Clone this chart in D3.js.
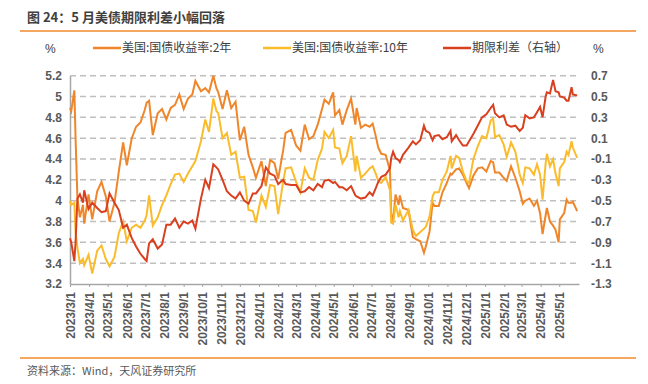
<html>
<script src="https://cdn.jsdelivr.net/npm/d3@7"></script>
<style>
body { margin: 0; background: #fff; }
text { font-family: "Liberation Sans", "Noto Sans CJK SC", sans-serif; }
.cn { font-family: "Noto Sans CJK SC", sans-serif; }
</style>
<body>
<svg width="648" height="384"></svg>
<script>
// trading-day samples (roughly weekly)
const dates = ["2023-03-01","2023-03-03","2023-03-08","2023-03-10","2023-03-13","2023-03-17","2023-03-22","2023-03-24","2023-03-31",
  "2023-04-06","2023-04-14","2023-04-21","2023-04-28","2023-05-04","2023-05-12","2023-05-19","2023-05-26","2023-06-01","2023-06-09",
  "2023-06-16","2023-06-23","2023-06-30","2023-07-03","2023-07-07","2023-07-13","2023-07-21","2023-07-28","2023-08-04","2023-08-11",
  "2023-08-18","2023-08-25","2023-09-01","2023-09-08","2023-09-15","2023-09-20","2023-09-29","2023-10-06","2023-10-12","2023-10-19",
  "2023-10-24","2023-10-27","2023-11-03","2023-11-10","2023-11-17","2023-11-24","2023-12-01","2023-12-08","2023-12-15","2023-12-22",
  "2023-12-27","2024-01-05","2024-01-12","2024-01-19","2024-01-26","2024-02-01","2024-02-09","2024-02-13","2024-02-22","2024-03-01",
  "2024-03-08","2024-03-15","2024-03-22","2024-03-29","2024-04-05","2024-04-12","2024-04-16","2024-04-23","2024-04-30","2024-05-03",
  "2024-05-10","2024-05-15","2024-05-22","2024-05-29","2024-06-05","2024-06-07","2024-06-14","2024-06-21","2024-06-28","2024-07-03",
  "2024-07-08","2024-07-12","2024-07-17","2024-07-24","2024-07-31","2024-08-02","2024-08-05","2024-08-09","2024-08-14","2024-08-16",
  "2024-08-21","2024-08-30","2024-09-06","2024-09-11","2024-09-18","2024-09-24","2024-09-27","2024-10-03","2024-10-08","2024-10-11",
  "2024-10-18","2024-10-24","2024-10-31","2024-11-06","2024-11-08","2024-11-15","2024-11-20","2024-11-26","2024-12-02","2024-12-06",
  "2024-12-13","2024-12-20","2024-12-27","2025-01-03","2025-01-10","2025-01-14","2025-01-17","2025-01-24","2025-01-31","2025-02-05",
  "2025-02-12","2025-02-19","2025-02-26","2025-03-03","2025-03-07","2025-03-14","2025-03-21","2025-03-26","2025-03-31","2025-04-04",
  "2025-04-09","2025-04-11","2025-04-16","2025-04-21","2025-04-25","2025-04-30","2025-05-02","2025-05-09","2025-05-13","2025-05-16",
  "2025-05-21","2025-05-23","2025-05-30"];

const y2 = [4.89,4.86,5.06,4.60,4.03,3.84,3.96,3.78,4.06,
  3.82,4.09,4.18,4.04,3.80,3.98,4.28,4.56,4.34,4.60,
  4.71,4.75,4.87,4.94,4.96,4.63,4.84,4.88,4.78,4.89,
  4.92,5.02,4.88,4.98,5.02,5.15,5.05,5.08,5.04,5.20,
  5.08,5.04,4.88,5.06,4.89,4.95,4.58,4.71,4.44,4.32,
  4.22,4.38,4.14,4.39,4.36,4.21,4.48,4.65,4.68,4.53,
  4.48,4.73,4.59,4.62,4.73,4.88,4.97,4.93,5.04,4.82,
  4.87,4.73,4.87,4.98,4.73,4.89,4.70,4.73,4.71,4.74,
  4.62,4.51,4.45,4.44,4.29,3.88,3.80,4.06,3.96,4.05,
  3.93,3.91,3.65,3.63,3.61,3.50,3.56,3.70,3.98,3.95,
  3.95,4.08,4.17,4.26,4.25,4.30,4.31,4.25,4.17,4.12,
  4.24,4.31,4.32,4.28,4.38,4.37,4.27,4.27,4.22,4.19,
  4.33,4.22,4.09,3.97,4.00,4.02,3.95,4.00,3.88,3.68,
  3.86,3.93,3.80,3.76,3.72,3.60,3.82,3.88,4.01,3.98,
  3.98,3.99,3.90];

const y10 = [4.00,3.96,3.98,3.70,3.55,3.40,3.44,3.38,3.48,
  3.30,3.52,3.57,3.44,3.37,3.46,3.69,3.80,3.61,3.74,
  3.77,3.74,3.81,3.86,4.05,3.76,3.84,3.96,4.05,4.16,
  4.25,4.26,4.18,4.26,4.33,4.38,4.57,4.78,4.66,4.98,
  4.86,4.84,4.60,4.65,4.44,4.47,4.22,4.23,3.91,3.90,
  3.79,4.05,3.94,4.15,4.14,3.87,4.18,4.31,4.32,4.18,
  4.08,4.31,4.22,4.20,4.39,4.50,4.66,4.60,4.68,4.51,
  4.50,4.36,4.43,4.62,4.28,4.43,4.22,4.26,4.31,4.33,
  4.26,4.19,4.17,4.23,4.10,3.79,3.78,3.96,3.84,3.90,
  3.81,3.91,3.72,3.66,3.70,3.73,3.75,3.85,4.04,4.08,
  4.08,4.20,4.28,4.43,4.31,4.43,4.41,4.28,4.19,4.17,
  4.40,4.52,4.62,4.60,4.77,4.79,4.61,4.63,4.54,4.42,
  4.56,4.47,4.25,4.17,4.32,4.31,4.25,4.35,4.25,4.01,
  4.36,4.45,4.33,4.40,4.26,4.14,4.31,4.37,4.47,4.44,
  4.57,4.51,4.41];

const spread = [-0.86,-0.90,-1.08,-0.90,-0.48,-0.44,-0.52,-0.40,-0.58,
  -0.52,-0.57,-0.61,-0.60,-0.43,-0.52,-0.59,-0.76,-0.73,-0.86,
  -0.94,-1.01,-1.06,-1.08,-0.91,-0.87,-0.96,-0.92,-0.73,-0.73,
  -0.67,-0.76,-0.70,-0.72,-0.69,-0.77,-0.48,-0.30,-0.38,-0.15,
  -0.18,-0.20,-0.30,-0.41,-0.45,-0.48,-0.42,-0.50,-0.53,-0.43,
  -0.43,-0.36,-0.18,-0.24,-0.26,-0.34,-0.30,-0.34,-0.35,-0.35,
  -0.42,-0.41,-0.37,-0.40,-0.34,-0.37,-0.31,-0.30,-0.33,-0.32,
  -0.37,-0.37,-0.40,-0.36,-0.45,-0.46,-0.48,-0.47,-0.42,-0.45,
  -0.38,-0.32,-0.27,-0.25,-0.19,-0.09,-0.03,-0.09,-0.11,-0.13,
  -0.06,0.01,0.07,0.04,0.08,0.22,0.17,0.15,0.08,0.12,
  0.13,0.09,0.11,0.17,0.07,0.13,0.08,0.03,0.03,0.07,
  0.14,0.22,0.30,0.33,0.39,0.42,0.34,0.30,0.32,0.23,
  0.21,0.22,0.17,0.20,0.32,0.29,0.30,0.35,0.40,0.30,
  0.50,0.54,0.53,0.66,0.55,0.54,0.50,0.49,0.46,0.46,
  0.59,0.52,0.51];

const monthTicks = ["2023/3/1","2023/4/1","2023/5/1","2023/6/1","2023/7/1","2023/8/1","2023/9/1","2023/10/1","2023/11/1",
  "2023/12/1","2024/1/1","2024/2/1","2024/3/1","2024/4/1","2024/5/1","2024/6/1","2024/7/1","2024/8/1","2024/9/1",
  "2024/10/1","2024/11/1","2024/12/1","2025/1/1","2025/2/1","2025/3/1","2025/4/1","2025/5/1"];
const leftTicks = [3.2,3.4,3.6,3.8,4,4.2,4.4,4.6,4.8,5,5.2];
const rightTicks = [-1.3,-1.1,-0.9,-0.7,-0.5,-0.3,-0.1,0.1,0.3,0.5,0.7];
const seriesNames = ["美国:国债收益率:2年","美国:国债收益率:10年","期限利差（右轴）"];
const colors = ["#F0862A","#FBBC2C","#D8401F"];

const parseDay = d3.timeParse("%Y-%m-%d");
const parseTick = d3.timeParse("%Y/%m/%d");
const svg = d3.select("svg");

const x = d3.scaleTime().domain([parseDay("2023-03-01"), parseDay("2025-06-02")]).range([70, 579]);
const yL = d3.scaleLinear().domain([3.2, 5.2]).range([284, 75.7]);
const yR = d3.scaleLinear().domain([-1.3, 0.7]).range([284, 75.7]);
const fmt = d => String(+d.toFixed(1));

// title + rules
svg.append("text").attr("class", "cn").attr("x", 27).attr("y", 22)
  .attr("font-size", 13).attr("font-weight", "bold").attr("fill", "#404040")
  .text("图 24：5 月美债期限利差小幅回落");
svg.append("line").attr("x1", 20).attr("x2", 636).attr("y1", 31).attr("y2", 31)
  .attr("stroke", "#F08A2C").attr("stroke-width", 1.5);
svg.append("line").attr("x1", 20).attr("x2", 636).attr("y1", 358).attr("y2", 358)
  .attr("stroke", "#F08A2C").attr("stroke-width", 1.5);
svg.append("text").attr("class", "cn").attr("x", 27).attr("y", 375)
  .attr("font-size", 11).attr("fill", "#595959").text("资料来源：Wind，天风证券研究所");

// gridlines
svg.append("g").selectAll("line").data(leftTicks.slice(1)).join("line")
  .attr("x1", 70).attr("x2", 579)
  .attr("y1", d => yL(d)).attr("y2", d => yL(d))
  .attr("stroke", "#BFBFBF").attr("stroke-width", 1.5).attr("stroke-dasharray", "6,4");

// left axis
const gl = svg.append("g").attr("transform", "translate(70,0)")
  .call(d3.axisLeft(yL).tickValues(leftTicks).tickFormat(fmt).tickSize(0).tickPadding(8));
gl.select(".domain").attr("stroke", "#A6A6A6").attr("stroke-width", 1.5);
gl.selectAll("text").attr("font-size", 12).attr("font-weight", "bold").attr("fill", "#595959");

// right axis (labels only)
const gr = svg.append("g").attr("transform", "translate(579,0)")
  .call(d3.axisRight(yR).tickValues(rightTicks).tickFormat(fmt).tickSize(0).tickPadding(12));
gr.select(".domain").remove();
gr.selectAll("text").attr("font-size", 12).attr("font-weight", "bold").attr("fill", "#595959");

// bottom axis
const gb = svg.append("g").attr("transform", "translate(0,284)")
  .call(d3.axisBottom(x).tickValues(monthTicks.map(parseTick)).tickFormat(d3.timeFormat("%Y/%-m/%-d")).tickSize(3).tickSizeOuter(0));
gb.select(".domain").attr("stroke", "#A6A6A6").attr("stroke-width", 1.5);
gb.selectAll(".tick line").attr("stroke", "#A6A6A6");
gb.selectAll("text").attr("font-size", 12).attr("font-weight", "bold").attr("fill", "#595959")
  .attr("transform", "rotate(-90)").attr("text-anchor", "end")
  .attr("x", -8).attr("y", 0).attr("dy", "0.35em");

// lines
const pts = dates.map(parseDay);
const lineL = d3.line().x((d, i) => x(pts[i])).y(d => yL(d));
const lineR = d3.line().x((d, i) => x(pts[i])).y(d => yR(d));
svg.append("path").datum(y2).attr("d", lineL).attr("fill", "none").attr("stroke", colors[0]).attr("stroke-width", 2);
svg.append("path").datum(y10).attr("d", lineL).attr("fill", "none").attr("stroke", colors[1]).attr("stroke-width", 2);
svg.append("path").datum(spread).attr("d", lineR).attr("fill", "none").attr("stroke", colors[2]).attr("stroke-width", 2);

// legend
const legX = [93, 263, 443];
const leg = svg.append("g");
seriesNames.forEach((name, i) => {
  leg.append("line").attr("x1", legX[i]).attr("x2", legX[i] + 28).attr("y1", 48).attr("y2", 48)
    .attr("stroke", colors[i]).attr("stroke-width", 2.5);
  leg.append("text").attr("class", "cn").attr("x", legX[i] + 29).attr("y", 52)
    .attr("font-size", 12).attr("fill", "#404040").text(name);
});
svg.append("text").attr("x", 45).attr("y", 53).attr("font-size", 12).attr("fill", "#404040").text("%");
svg.append("text").attr("x", 593).attr("y", 53).attr("font-size", 12).attr("fill", "#404040").text("%");
</script>
</body>
</html>
